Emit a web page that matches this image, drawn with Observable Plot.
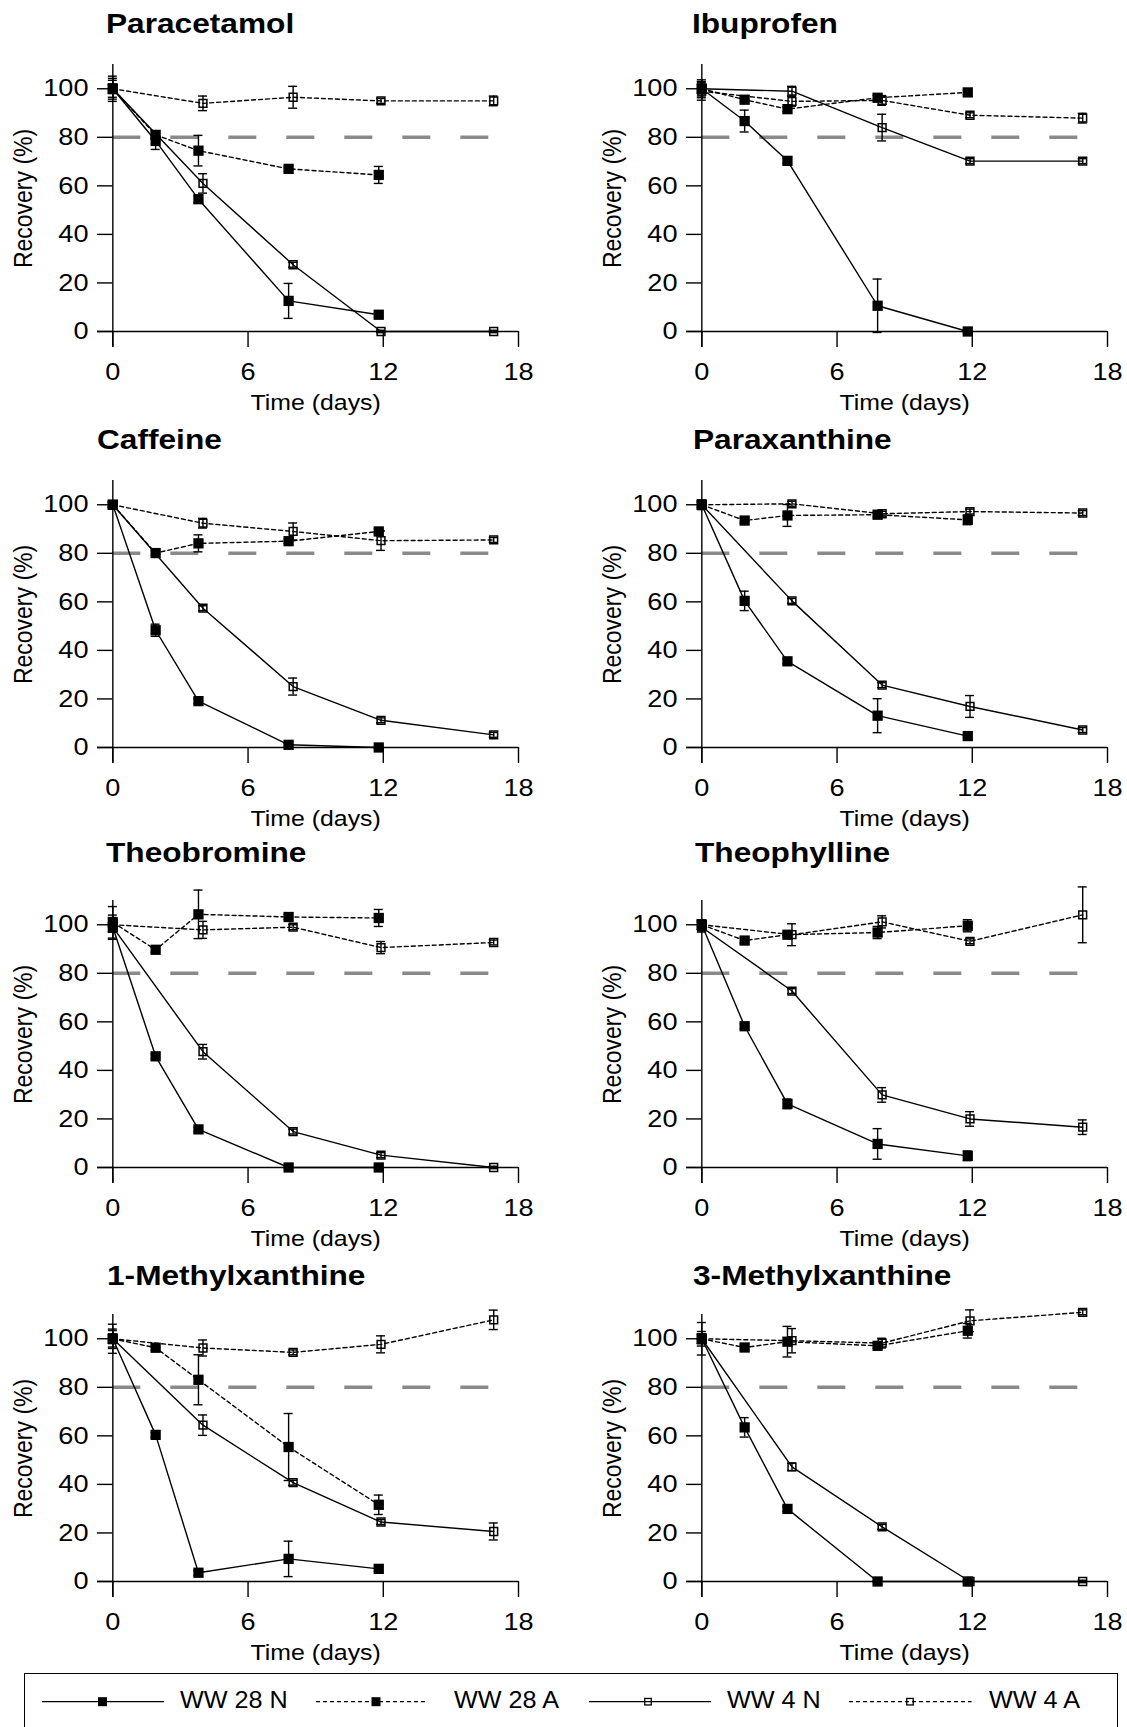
<!DOCTYPE html>
<html>
<head>
<meta charset="utf-8">
<script src="https://cdn.jsdelivr.net/npm/d3@7"></script>
<script src="https://cdn.jsdelivr.net/npm/@observablehq/plot@0.6"></script>
<style>
  html, body { margin: 0; padding: 0; background: #fff; width: 1127px; height: 1727px; overflow: hidden; }
  body { font-family: "Liberation Sans", Arial, sans-serif; color: #000; }
  #root { position: relative; width: 1127px; height: 1727px; overflow: hidden; }
  .panel { position: absolute; width: 550px; height: 373px; }
  .panel svg { overflow: visible; display: block; max-width: none !important; width: 550px !important; height: 373px !important; }
  .title { position: absolute; font-weight: bold; font-size: 28px; line-height: 1; white-space: nowrap; transform: scaleX(1.13); transform-origin: left center; }
  #legend { position: absolute; left: 24px; top: 1673px; width: 1094px; height: 90px; border: 1.5px solid #000; box-sizing: border-box; }
  .ltext { position: absolute; font-size: 24px; line-height: 1; white-space: nowrap; transform: scaleX(1.05); transform-origin: left center; }
  #legendsvg { position: absolute; left: 0; top: 0; overflow: visible; }
</style>
</head>
<body>
<div id="root"></div>
<script>
// ---------- data ----------
const COMPOUNDS = ["Paracetamol", "Ibuprofen", "Caffeine", "Paraxanthine",
                   "Theobromine", "Theophylline", "1-Methylxanthine", "3-Methylxanthine"];
const SERIES = ["WW 28 N", "WW 28 A", "WW 4 N", "WW 4 A"];
const DAYS_28 = [0, 1.9, 3.8, 7.8, 11.8];
const DAYS_4 = [0, 4, 8, 11.9, 16.9];
const X_TICKS = [0, 6, 12, 18];
const Y_TICKS = [0, 20, 40, 60, 80, 100];
const X_LABEL = "Time (days)";
const Y_LABEL = "Recovery (%)";
const THRESHOLD = 80;

// Paracetamol
const PAR_28N = [100, 78.5, 54.5, 12.6, 6.9],   PAR_28N_SD = [5.2, 3.5, 1.5, 7.2, 1];
const PAR_28A = [100, 81, 74.5, 67, 64.5],      PAR_28A_SD = [4.3, 1.5, 6.3, 1, 3.5];
const PAR_4N  = [100, 61, 27.5, 0, 0],          PAR_4N_SD  = [3.5, 4, 1, 0.5, 0.5];
const PAR_4A  = [100, 94, 96.5, 95, 95],        PAR_4A_SD  = [2, 3, 4.5, 1, 2];
// Ibuprofen
const IBU_28N = [100, 86.7, 70.3, 10.6, 0],     IBU_28N_SD = [3.7, 4.5, 1, 11, 0.5];
const IBU_28A = [100, 95.5, 91.6, 96.3, 98.5],  IBU_28A_SD = [3, 1, 1, 1, 1];
const IBU_4N  = [100, 99, 84, 70.2, 70.2],      IBU_4N_SD  = [2, 2, 5.5, 1, 1];
const IBU_4A  = [99, 94.8, 95.2, 89.1, 87.9],   IBU_4A_SD  = [3.7, 2, 2, 1, 2];
// Caffeine
const CAF_28N = [100, 48.3, 19.1, 1.1, 0],      CAF_28N_SD = [1, 2.5, 1, 0.5, 0.5];
const CAF_28A = [100, 80.1, 84.1, 85, 89],      CAF_28A_SD = [1, 1, 3.5, 1, 1];
const CAF_4N  = [100, 57.4, 25.1, 11.2, 5.2],   CAF_4N_SD  = [1, 1, 3.5, 1, 1];
const CAF_4A  = [100, 92.4, 89, 85.2, 85.5],    CAF_4A_SD  = [1, 2, 3.5, 4, 1];
// Paraxanthine
const PXA_28N = [100, 60.4, 35.5, 13.1, 4.7],   PXA_28N_SD = [2, 4, 1, 7, 0.5];
const PXA_28A = [100, 93.5, 95.6, 95.9, 93.8],  PXA_28A_SD = [1.5, 1, 4.5, 1, 2];
const PXA_4N  = [100, 60.4, 25.7, 16.9, 7.2],   PXA_4N_SD  = [1, 1, 1, 4.5, 1];
const PXA_4A  = [100, 100.4, 96.3, 97.2, 96.6], PXA_4A_SD  = [1, 1, 1, 1, 1];
// Theobromine
const TBR_28N = [99, 45.8, 15.7, 0, 0],         TBR_28N_SD = [2, 1, 1, 0.5, 0.5];
const TBR_28A = [101, 89.7, 104.3, 103.2, 102.8], TBR_28A_SD = [6.5, 1, 10, 1, 3.5];
const TBR_4N  = [99, 47.7, 14.8, 5.1, 0],       TBR_4N_SD  = [5, 3, 1, 1, 0.5];
const TBR_4A  = [100, 97.9, 99, 90.6, 92.7],    TBR_4A_SD  = [3, 3.5, 1, 2.5, 1];
// Theophylline
const TPH_28N = [100, 58.2, 26.2, 9.7, 4.8],    TPH_28N_SD = [2, 1, 2, 6.3, 2];
const TPH_28A = [100, 93.5, 95.9, 96.8, 99.6],  TPH_28A_SD = [2, 1, 1, 2.5, 2.5];
const TPH_4N  = [99, 72.7, 29.9, 20, 16.6],     TPH_4N_SD  = [2, 1, 3, 3, 3];
const TPH_4A  = [100, 95.9, 101.2, 93.2, 104.1], TPH_4A_SD = [2, 4.5, 2.5, 1, 11.5];
// 1-Methylxanthine
const MX1_28N = [100, 60.4, 3.6, 9.3, 5.2],     MX1_28N_SD = [6, 1, 1, 7.3, 1];
const MX1_28A = [100, 96.3, 83.1, 55.4, 31.6],  MX1_28A_SD = [4, 1, 10.3, 13.8, 4];
const MX1_4N  = [100, 64.4, 40.7, 24.5, 20.6],  MX1_4N_SD  = [3.4, 4.2, 1, 1, 3.5];
const MX1_4A  = [100, 96.2, 94.4, 97.7, 107.8], MX1_4A_SD  = [2, 3.3, 1, 3.5, 4];
// 3-Methylxanthine
const MX3_28N = [100, 63.5, 29.9, 0, 0],        MX3_28N_SD = [6.7, 4, 1, 0.5, 0.5];
const MX3_28A = [100, 96.4, 98.8, 97.1, 103.3], MX3_28A_SD = [3, 1, 6.3, 1, 3];
const MX3_4N  = [100, 47.2, 22.5, 0, 0],        MX3_4N_SD  = [2, 1.5, 1, 0.5, 0.5];
const MX3_4A  = [100, 99.2, 98.2, 107.4, 110.9], MX3_4A_SD = [2, 5, 2, 4.5, 1];

const PANEL_DATA = [
  [[PAR_28N, PAR_28N_SD], [PAR_28A, PAR_28A_SD], [PAR_4N, PAR_4N_SD], [PAR_4A, PAR_4A_SD]],
  [[IBU_28N, IBU_28N_SD], [IBU_28A, IBU_28A_SD], [IBU_4N, IBU_4N_SD], [IBU_4A, IBU_4A_SD]],
  [[CAF_28N, CAF_28N_SD], [CAF_28A, CAF_28A_SD], [CAF_4N, CAF_4N_SD], [CAF_4A, CAF_4A_SD]],
  [[PXA_28N, PXA_28N_SD], [PXA_28A, PXA_28A_SD], [PXA_4N, PXA_4N_SD], [PXA_4A, PXA_4A_SD]],
  [[TBR_28N, TBR_28N_SD], [TBR_28A, TBR_28A_SD], [TBR_4N, TBR_4N_SD], [TBR_4A, TBR_4A_SD]],
  [[TPH_28N, TPH_28N_SD], [TPH_28A, TPH_28A_SD], [TPH_4N, TPH_4N_SD], [TPH_4A, TPH_4A_SD]],
  [[MX1_28N, MX1_28N_SD], [MX1_28A, MX1_28A_SD], [MX1_4N, MX1_4N_SD], [MX1_4A, MX1_4A_SD]],
  [[MX3_28N, MX3_28N_SD], [MX3_28A, MX3_28A_SD], [MX3_4N, MX3_4N_SD], [MX3_4A, MX3_4A_SD]]
];

// ---------- layout / style ----------
const FONT = '"Liberation Sans", Arial, sans-serif';
const X_MIN = -0.68, X_MAX = 18;
const Y_MIN = -6.6, Y_MAX = 110;
const CAP = 0.2;          // half width of error-bar caps (days)
const STRETCH = 1.13;     // horizontal stretch of the original figure's text
const W = 550, H = 373, ML = 97, MR = 32, MT = 20, MB = 70;
const COL_LEFT = [0, 588.7];
const ROW_TOP = [43.9, 459.5, 879.9, 1294.2];
const TITLE_LEFT = [106, 692, 97, 693, 106, 695, 107, 693];
const TITLE_BASE = [33.3, 450, 863, 1286];

function stretchTexts(svg, sx) {
  svg.querySelectorAll("text").forEach(t => {
    const tr = t.getAttribute("transform");
    if (tr && tr.includes("translate(")) {
      t.setAttribute("transform", tr.replace(/translate\([^)]*\)/, m => `${m} scale(${sx},1)`));
    } else if (!tr) {
      const x = +(t.getAttribute("x") || 0), y = +(t.getAttribute("y") || 0);
      t.removeAttribute("x"); t.removeAttribute("y");
      t.setAttribute("transform", `translate(${x},${y}) scale(${sx},1)`);
    }
  });
}

function makePanel(values) {
  const rows = [];
  values.forEach(([v, sd], s) => {
    const days = s < 2 ? DAYS_28 : DAYS_4;
    v.forEach((val, i) => rows.push({series: SERIES[s], t: days[i], v: val, e: sd[i]}));
  });
  const solid = rows.filter(d => d.series.endsWith("N"));
  const dashed = rows.filter(d => d.series.endsWith("A"));
  const filled = rows.filter(d => d.series.includes("28"));
  const open = rows.filter(d => !d.series.includes("28"));
  const axisStyle = {stroke: "#000", strokeWidth: 1.4};
  return Plot.plot({
    width: W, height: H, marginLeft: ML, marginRight: MR, marginTop: MT, marginBottom: MB,
    style: {fontFamily: FONT, fontSize: "24px", color: "#000", background: "transparent", overflow: "visible"},
    x: {domain: [X_MIN, X_MAX], ticks: X_TICKS, tickSize: 0, tickPadding: 15, label: null},
    y: {domain: [Y_MIN, Y_MAX], ticks: Y_TICKS, tickSize: 0, tickPadding: 9, label: null},
    marks: [
      Plot.ruleY([THRESHOLD], {x1: 0, x2: d3.max(DAYS_4), stroke: "#8a8a8a", strokeWidth: 3.5, strokeDasharray: "28,30"}),
      Plot.ruleY([0], {x1: X_MIN, x2: X_MAX, ...axisStyle}),
      Plot.ruleX([0], {y1: Y_MIN, y2: Y_MAX, ...axisStyle}),
      Plot.ruleX(X_TICKS, {y1: Y_MIN, y2: 0, ...axisStyle}),
      Plot.ruleY(Y_TICKS, {x1: X_MIN, x2: 0, ...axisStyle}),
      Plot.line(solid, {x: "t", y: "v", z: "series", stroke: "#000", strokeWidth: 1.4}),
      Plot.line(dashed, {x: "t", y: "v", z: "series", stroke: "#000", strokeWidth: 1.4, strokeDasharray: "4,3"}),
      Plot.ruleX(rows, {x: "t", y1: d => d.v - d.e, y2: d => d.v + d.e, stroke: "#000", strokeWidth: 1.4}),
      Plot.ruleY(rows, {y: d => d.v + d.e, x1: d => d.t - CAP, x2: d => d.t + CAP, stroke: "#000", strokeWidth: 1.4}),
      Plot.ruleY(rows, {y: d => d.v - d.e, x1: d => d.t - CAP, x2: d => d.t + CAP, stroke: "#000", strokeWidth: 1.4}),
      Plot.dot(open, {x: "t", y: "v", symbol: "square", r: 4.4, fill: "none", stroke: "#000", strokeWidth: 1.5}),
      Plot.dot(filled, {x: "t", y: "v", symbol: "square", r: 5.8, fill: "#000", stroke: "none"}),
      Plot.text([X_LABEL], {x: () => d3.mean(d3.extent(X_TICKS)), frameAnchor: "bottom", lineAnchor: "bottom", dy: 62, fontSize: 22, fill: "#000"}),
      Plot.text([Y_LABEL], {frameAnchor: "left", textAnchor: "middle", lineAnchor: "middle", rotate: -90, dx: -74, dy: -7.5, fontSize: 23, fill: "#000"})
    ]
  });
}

const root = document.getElementById("root");
COMPOUNDS.forEach((name, i) => {
  const r = Math.floor(i / 2), c = i % 2;
  const wrap = document.createElement("div");
  wrap.className = "panel";
  wrap.style.left = COL_LEFT[c] + "px";
  wrap.style.top = ROW_TOP[r] + "px";
  const svg = makePanel(PANEL_DATA[i]);
  stretchTexts(svg, STRETCH);
  wrap.appendChild(svg);
  root.appendChild(wrap);

  const t = document.createElement("div");
  t.className = "title";
  t.textContent = name;
  t.style.left = TITLE_LEFT[i] + "px";
  t.style.top = (TITLE_BASE[r] - 0.8465 * 28) + "px";
  root.appendChild(t);
});

// ---------- legend ----------
const legend = document.createElement("div");
legend.id = "legend";
root.appendChild(legend);
const LEG_Y = 1701.7;
const LEG_ITEMS = [
  {x1: 42, x2: 164, mx: 102.5, tx: 180},
  {x1: 316, x2: 427.5, mx: 376, tx: 453.6},
  {x1: 589, x2: 711, mx: 648, tx: 727},
  {x1: 849, x2: 971.6, mx: 910, tx: 988.6}
];
const lsvg = d3.select(root).append("svg").attr("id", "legendsvg").attr("width", 1127).attr("height", 1727);
SERIES.forEach((s, i) => {
  const it = LEG_ITEMS[i];
  const isA = s.endsWith("A"), is28 = s.includes("28");
  lsvg.append("line").attr("x1", it.x1).attr("x2", it.x2).attr("y1", LEG_Y).attr("y2", LEG_Y)
    .attr("stroke", "#000").attr("stroke-width", 1.3).attr("stroke-dasharray", isA ? "4,3" : null);
  const side = is28 ? 9 : 6.5;
  lsvg.append("rect").attr("x", it.mx - side / 2).attr("y", LEG_Y - side / 2).attr("width", side).attr("height", side)
    .attr("fill", is28 ? "#000" : "none").attr("stroke", is28 ? "none" : "#000").attr("stroke-width", 1.3);
  const sp = document.createElement("div");
  sp.className = "ltext";
  sp.textContent = s;
  sp.style.left = it.tx + "px";
  sp.style.top = (1708 - 0.8465 * 24) + "px";
  root.appendChild(sp);
});
</script>
</body>
</html>
